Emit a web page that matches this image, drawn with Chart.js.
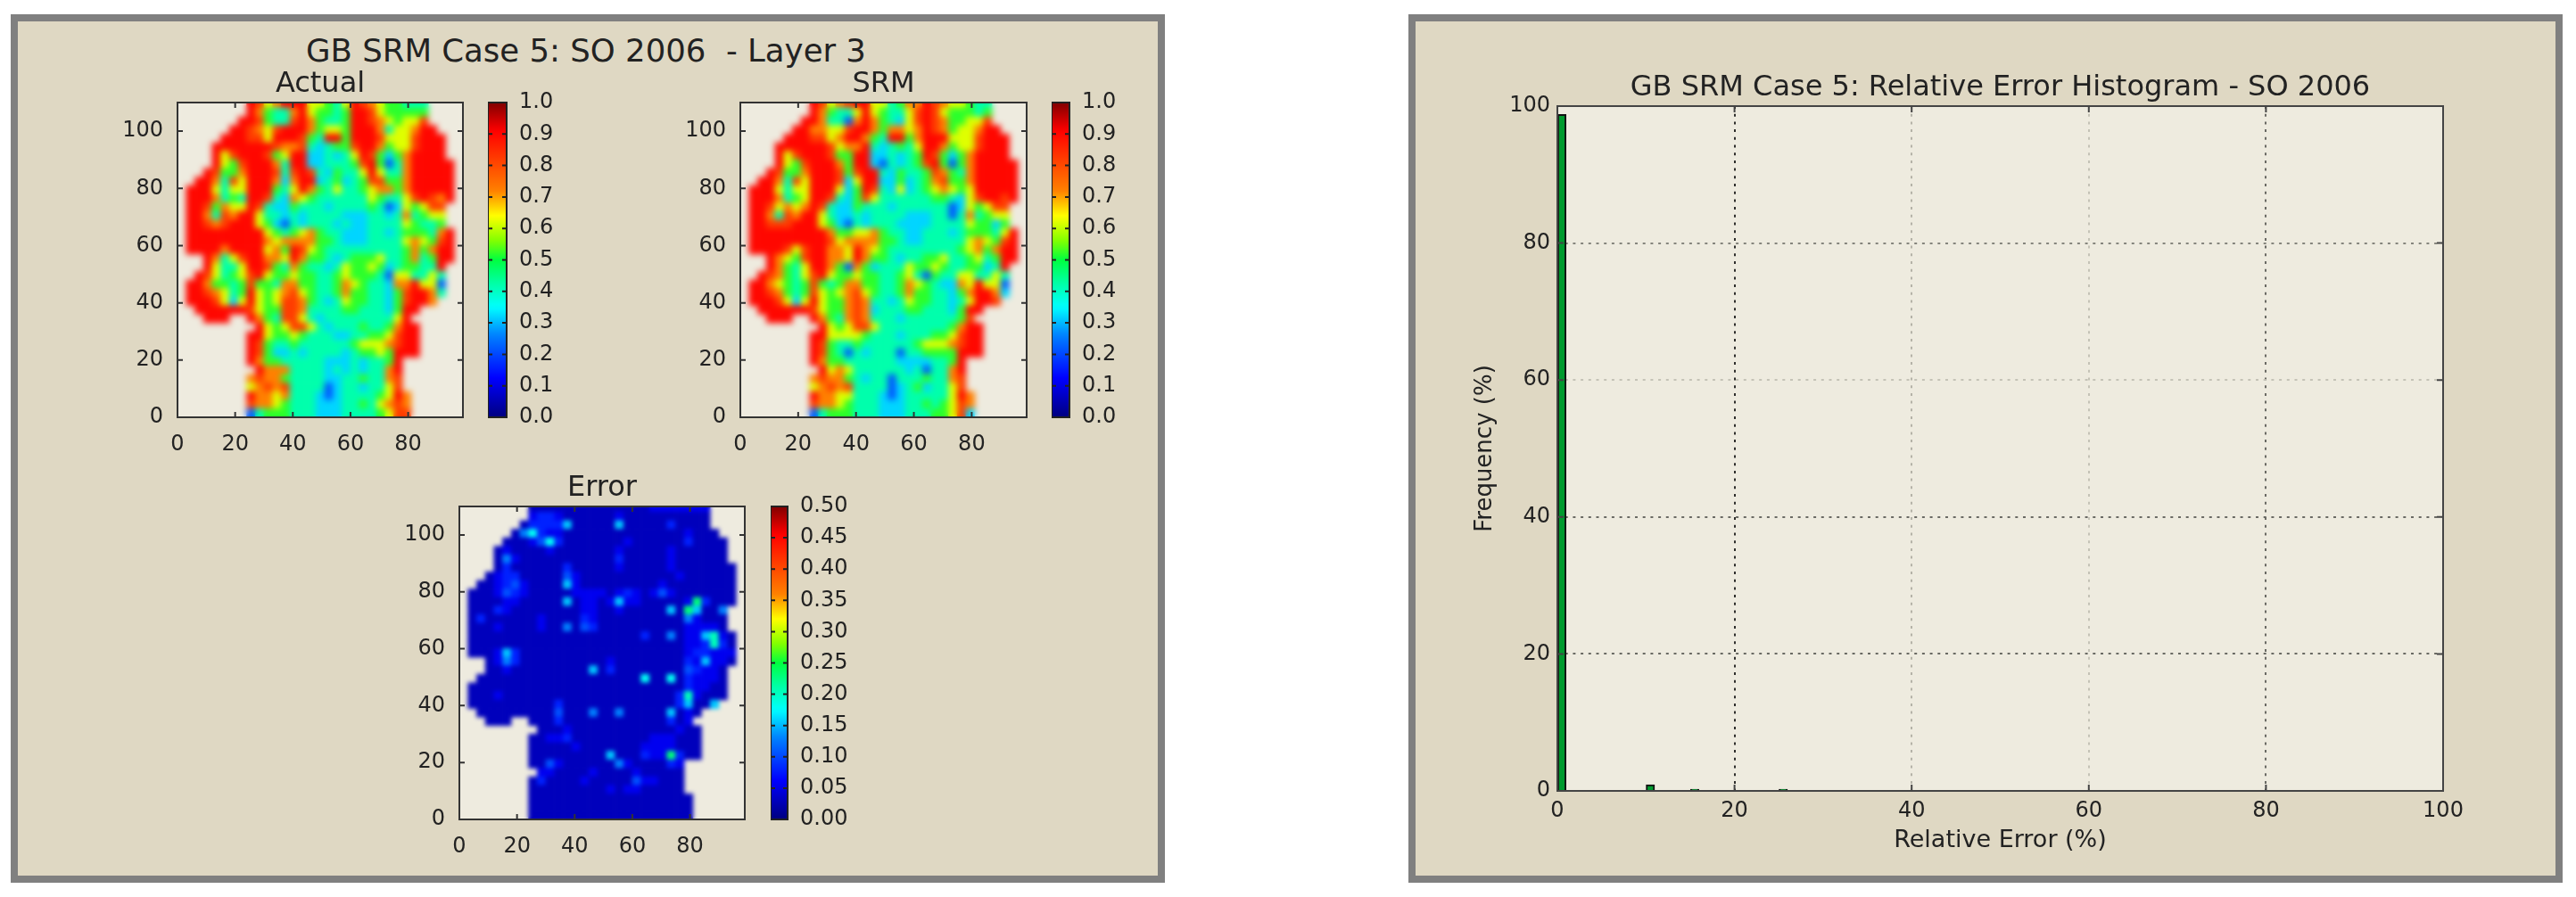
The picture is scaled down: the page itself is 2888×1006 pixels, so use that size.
<!DOCTYPE html>
<html>
<head>
<meta charset="utf-8">
<title>GB SRM Case 5</title>
<script src="https://cdn.jsdelivr.net/npm/chart.js@4"></script>
<style>
  html, body { margin: 0; background: #fff; }
  #page { position: relative; width: 2888px; height: 1006px; overflow: hidden; filter: blur(0.6px); }
  .panel { position: absolute; box-sizing: border-box; border: 8px solid #808080; background: #dfd8c3; }
  canvas { position: absolute; }
  #mainTitle { position: absolute; left: 657px; top: 36px; line-height: 40px; transform: translateX(-50%);
    font: 35.5px "DejaVu Sans"; color: #222; white-space: pre; }
</style>
</head>
<body>
<div id="page">
  <div class="panel" style="left:12px;top:16px;width:1294px;height:974px"></div>
  <div class="panel" style="left:1579px;top:16px;width:1294px;height:974px"></div>
  <div id="mainTitle">GB SRM Case 5: SO 2006  - Layer 3</div>
</div>
<script>
// Map cells, 3 x 3 grid units each, top row first.
// '.' = no data, a digit = value band, in steps of the map's unit
const actualRows = [
  "........986799966546987655444",
  "........975447965545998655555",
  ".......9985448975445998765668",
  "......998768999756659997466799",
  ".....99988699985499599986668999",
  "....999999987784345589975668999",
  "....968999856993343469853579999",
  "....9658999749933444589524799999",
  "...98557999848984354469644799999",
  "..997486999737993453458855799999",
  ".9996466999546975464456775799999",
  ".9997454998437654444446544689879",
  ".998576698433544434444542365688",
  ".997487996443434444333443474566",
  ".998789996532434443433444465445",
  ".9999999996545675443334434555479",
  ".9999999997677775543334444676589",
  ".9999799996759865444444444575799",
  "...97468997769755434555644574599",
  "...9644699854754434655653455449",
  "..98645689655655445655542664464",
  ".997554585547755445765443779662",
  ".998764596567865445755443589974",
  ".99986369656887543465544358997",
  "..99999986558874444554443599",
  "...999..9754886434444444469",
  ".........9656886434445445799",
  "........99655654443344556899",
  "........98544544444456667899",
  "........98533434444345565999",
  "........975544444333434459",
  ".........97774444343434479",
  "........787754444334454478",
  "........678784444234434468",
  "........9776744432344445697",
  "........8776544433344546787",
  "........2455544433344445688"
];
const srmRows = [
  "........986789966457798766544",
  "........975446965446898655545",
  ".......9974427975436898755668",
  "......997766899757767987566799",
  ".....99988679975499579996668999",
  "....999999867794345469975668999",
  "....968999855993343459853579999",
  "....9658999759932434589525799999",
  "...98557999858994354458754799999",
  "..997486999836993353457855799999",
  ".9996466999635984363456765699999",
  ".9997456998435864444445543689989",
  ".998676798433544434444442365688",
  ".997487996433434444333442474566",
  ".998889996532434443333444465535",
  ".9999999997556675443344434555469",
  ".9999999998677775543344444676589",
  ".9999868997769765444444445675799",
  "...97658997769755434455644564599",
  "...9754699752753444655654455349",
  "..98754689655655445642544664464",
  ".997654585457755445765433769662",
  ".998754586567865445755443579973",
  ".99986369655787443465544346998",
  "..99999986557873444554443599",
  "...999..9754787444344444458",
  ".........9656886444444445799",
  "........99666654443444556899",
  "........98544544444456667899",
  "........98542434442445555999",
  "........975544444433334459",
  ".........96764444443424479",
  "........787754344244454478",
  "........678784444234534468",
  "........9776644432344444697",
  "........8776544433344545687",
  "........2455544433344455683"
];
const errorRows = [
  "........111111111111112222222",
  "........233211111121111111111",
  ".......1333361111161111131111",
  "......157322111111111111112111",
  ".....11124731111111211111131111",
  "....121111211111112111112111111",
  "....152111111111113111112111111",
  "....1311111131111121111121111111",
  "...12331111142111111111112111111",
  "..112342111162111111111211111111",
  ".1112432111112222123212421111111",
  ".1111221111161221262211111293111",
  ".111321111111122112111116196115",
  ".131111112111132111111111152111",
  ".111211112115143111111111122221",
  ".1111111111111111111131151226821",
  ".1111111111111111111111111223831",
  ".1112631111111111111111111233222",
  "...12531111111111211111111326221",
  "...1121111111116131111111143221",
  "..11111111111111111117117132221",
  ".111111111111111111111111132211",
  ".111211111111111111111111382111",
  ".11111111113111111111111136116",
  "..11111111141115115111116121",
  "...111..1113111111111111312",
  ".........1112111111111111211",
  "........11223111111111222111",
  "........11111211111112222111",
  "........11111111161113229311",
  "........114211111152111132",
  ".........22111121111211111",
  "........131111211111422111",
  "........111111111212211111",
  "........1111111111111111111",
  "........1111111111111111111",
  "........1111111111111111111"
];

// Histogram bins (left edge, %) and their frequency (%)
const binStarts = [0, 10, 15, 25];
const binFreqs = [98.8, 0.9, 0.25, 0.25];

// Tick values
const mapXTicks = [0, 20, 40, 60, 80];
const mapYTicks = [0, 20, 40, 60, 80, 100];
const barTicks = [0, 0.1, 0.2, 0.3, 0.4, 0.5, 0.6, 0.7, 0.8, 0.9, 1];
const errorBarTicks = [0, 0.05, 0.1, 0.15, 0.2, 0.25, 0.3, 0.35, 0.4, 0.45, 0.5];
const histTicks = [0, 20, 40, 60, 80, 100];

// Grid line shades of the histogram, by tick value
const histXShade = { 20: '#2e2e2c', 40: '#b5b3a8', 60: '#c4c2b6', 80: '#6a6a64' };
const histYShade = { 20: '#6a6a64', 40: '#6a6a64', 60: '#c4c2b6', 80: '#85857d' };

const FONT = 'DejaVu Sans';
const INK = '#222';
const PLOT_BG = '#eeebdf';
const CELL = 3; // grid units per map cell
const GRID_TOP = 110;
const BAND_OFFSET = 0.2; // a digit stands for a band, take a value a little above its floor

// Colormap as it looks on the pictured colorbars: [position, r, g, b]
const colorStops = [
    [0, 0, 0, 127], [0.125, 0, 0, 255], [0.26, 0, 128, 255], [0.35, 0, 255, 255],
    [0.43, 0, 255, 160], [0.5, 0, 255, 64], [0.56, 128, 255, 0], [0.64, 255, 255, 0],
    [0.72, 255, 128, 0], [0.91, 255, 0, 0], [1, 128, 0, 0]
];

function jet(t) {
    for (let i = 1; i < colorStops.length; i++) {
        if (t <= colorStops[i][0]) {
            const a = colorStops[i - 1];
            const b = colorStops[i];
            const f = (t - a[0]) / (b[0] - a[0]);
            const mix = (k) => Math.round(a[k] + (b[k] - a[k]) * f);
            return `rgb(${mix(1)},${mix(2)},${mix(3)})`;
        }
    }
    return 'rgb(128,0,0)';
}

function addCanvas(left, top, width, height) {
    const canvas = document.createElement('canvas');
    canvas.width = width;
    canvas.height = height;
    canvas.style.left = left + 'px';
    canvas.style.top = top + 'px';
    document.getElementById('page').appendChild(canvas);
    return canvas.getContext('2d');
}

// Pins an axis to a fixed thickness so the plot area lands where it should
const fixedSize = (size) => (scale) => {
    if (scale.isHorizontal()) scale.height = size;
    else scale.width = size;
    scale.paddingLeft = scale.paddingRight = scale.paddingTop = scale.paddingBottom = 0;
};

const setTicks = (values) => (scale) => {
    scale.ticks = values.map(value => ({ value }));
};

function axisOptions(min, max, values, size, label) {
    return {
        type: 'linear',
        min: min,
        max: max,
        afterBuildTicks: setTicks(values),
        afterFit: fixedSize(size),
        border: { display: false },
        grid: { display: false },
        ticks: {
            autoSkip: false,
            maxRotation: 0,
            padding: 8,
            color: INK,
            font: { family: FONT, size: 24 },
            callback: label || (v => String(v))
        }
    };
}

// Fills the plot background, then adds the frame and the inward tick marks
function framePlugin(tick, frameColor) {
    return {
        id: 'frame',
        beforeDraw(chart) {
            const a = chart.chartArea;
            chart.ctx.fillStyle = PLOT_BG;
            chart.ctx.fillRect(a.left, a.top, a.width, a.height);
        },
        afterDraw(chart) {
            const a = chart.chartArea;
            const ctx = chart.ctx;
            ctx.save();
            ctx.strokeStyle = frameColor;
            ctx.lineWidth = 2;
            ctx.strokeRect(a.left, a.top, a.width, a.height);
            ctx.beginPath();
            Object.values(chart.scales).forEach(scale => {
                if (!scale.options.display) return;
                scale.ticks.forEach(t => {
                    const p = scale.getPixelForValue(t.value);
                    if (scale.isHorizontal()) {
                        ctx.moveTo(p, a.top); ctx.lineTo(p, a.top + tick);
                        ctx.moveTo(p, a.bottom); ctx.lineTo(p, a.bottom - tick);
                    } else {
                        ctx.moveTo(a.left, p); ctx.lineTo(a.left + tick, p);
                        ctx.moveTo(a.right, p); ctx.lineTo(a.right - tick, p);
                    }
                });
            });
            ctx.stroke();
            ctx.restore();
        }
    };
}

// The pictured maps are interpolated: soften the cells inside the plot area only
function softenCells(radius) {
    return {
        id: 'softenCells',
        afterDatasetsDraw(chart) {
            const a = chart.chartArea;
            const ctx = chart.ctx;
            ctx.save();
            ctx.beginPath();
            ctx.rect(a.left, a.top, a.width, a.height);
            ctx.clip();
            ctx.filter = `blur(${radius}px)`;
            ctx.drawImage(chart.canvas, a.left, a.top, a.width, a.height, a.left, a.top, a.width, a.height);
            ctx.restore();
        }
    };
}

function rowsToPoints(rows, unit, vmax, top) {
    const points = [];
    rows.forEach((row, r) => {
        [...row].forEach((ch, c) => {
            if (ch === '.') return;
            const v = Math.min((Number(ch) + BAND_OFFSET) * unit, 0.9 * vmax);
            points.push({ x: (c + 0.5) * CELL, y: top - (r + 0.5) * CELL, v: v });
        });
    });
    return points;
}

// One map with its title
function mapChart(box, rows, unit, vmax, title, titleGap, blur) {
    const axisW = 80, axisH = 45, marginTop = 60, titleSize = 32;
    const ctx = addCanvas(box.left - axisW, box.top - marginTop,
        box.right - box.left + axisW + 6, box.bottom - box.top + marginTop + axisH);
    return new Chart(ctx, {
        type: 'scatter',
        data: {
            datasets: [{
                data: rowsToPoints(rows, unit, vmax, GRID_TOP + 1),
                pointStyle: 'rect',
                borderWidth: 0,
                pointBorderWidth: 0,
                pointBackgroundColor: (c) => c.raw ? jet(c.raw.v / vmax) : '#000',
                pointRadius: (c) => {
                    const x = c.chart.scales.x;
                    return Math.abs(x.getPixelForValue(CELL) - x.getPixelForValue(0)) * 0.75;
                }
            }]
        },
        options: {
            responsive: false,
            animation: false,
            devicePixelRatio: 1,
            events: [],
            layout: { padding: { top: marginTop - titleSize * 1.2 - titleGap, right: 6 } },
            plugins: {
                legend: { display: false },
                tooltip: { enabled: false },
                title: {
                    display: true,
                    text: title,
                    fullSize: false,
                    color: INK,
                    font: { family: FONT, size: titleSize, weight: 'normal', lineHeight: 1.2 },
                    padding: { top: 0, bottom: titleGap }
                }
            },
            scales: {
                x: axisOptions(0, 99, mapXTicks, axisH),
                y: axisOptions(0, GRID_TOP, mapYTicks, axisW)
            }
        },
        plugins: [framePlugin(6, '#333'), softenCells(blur)]
    });
}

// Vertical colorbar: one floating bar painted with the colormap
function colorBar(box, vmax, values, digits) {
    const axisW = 84, marginTop = 20, marginBottom = 20;
    const ctx = addCanvas(box.left, box.top - marginTop,
        box.right - box.left + axisW, box.bottom - box.top + marginTop + marginBottom);
    const y = axisOptions(0, vmax, values, axisW, v => v.toFixed(digits));
    y.position = 'right';
    y.ticks.padding = 6;
    return new Chart(ctx, {
        type: 'bar',
        data: {
            labels: [''],
            datasets: [{
                data: [[0, vmax]],
                barPercentage: 1,
                categoryPercentage: 1,
                backgroundColor: (c) => {
                    const a = c.chart.chartArea;
                    if (!a) return '#000';
                    const g = c.chart.ctx.createLinearGradient(0, a.bottom, 0, a.top);
                    for (let i = 0; i <= 64; i++) g.addColorStop(i / 64, jet(i / 64));
                    return g;
                }
            }]
        },
        options: {
            responsive: false,
            animation: false,
            devicePixelRatio: 1,
            events: [],
            layout: { padding: { top: marginTop, bottom: marginBottom } },
            plugins: { legend: { display: false }, tooltip: { enabled: false } },
            scales: { x: { display: false }, y: y }
        },
        plugins: [framePlugin(5, '#222')]
    });
}

function histChart(box) {
    const axisW = 100, axisH = 80, marginTop = 60, marginRight = 60, titleSize = 32, titleGap = 1.5;
    const ctx = addCanvas(box.left - axisW, box.top - marginTop,
        box.right - box.left + axisW + marginRight, box.bottom - box.top + marginTop + axisH);
    const x = axisOptions(0, 100, histTicks, axisH);
    const y = axisOptions(0, 100, histTicks, axisW);
    x.offset = false;
    x.grid = { offset: false, drawTicks: false, lineWidth: 2, color: c => histXShade[c.tick.value] || 'transparent' };
    y.grid = { drawTicks: false, lineWidth: 2, color: c => histYShade[c.tick.value] || 'transparent' };
    x.border = { display: false, dash: [3, 5.7] };
    y.border = { display: false, dash: [3, 5.7] };
    x.title = {
        display: true,
        text: 'Relative Error (%)',
        color: INK,
        font: { family: FONT, size: 27, lineHeight: 1.2 },
        padding: { top: 0, bottom: 8 }
    };
    y.title = {
        display: true,
        text: 'Frequency (%)',
        color: INK,
        font: { family: FONT, size: 26, lineHeight: 1.2 },
        padding: { top: 4, bottom: 0 }
    };
    return new Chart(ctx, {
        type: 'bar',
        data: {
            datasets: [{
                data: binStarts.map((b, i) => ({ x: b + 0.5, y: binFreqs[i] })),
                barThickness: 9.5,
                backgroundColor: '#009a2e',
                borderColor: '#111',
                borderWidth: 2
            }]
        },
        options: {
            responsive: false,
            animation: false,
            devicePixelRatio: 1,
            events: [],
            layout: { padding: { top: marginTop - titleSize * 1.2 - titleGap, right: marginRight } },
            plugins: {
                legend: { display: false },
                tooltip: { enabled: false },
                title: {
                    display: true,
                    text: 'GB SRM Case 5: Relative Error Histogram - SO 2006',
                    fullSize: false,
                    color: INK,
                    font: { family: FONT, size: titleSize, weight: 'normal', lineHeight: 1.2 },
                    padding: { top: 0, bottom: titleGap }
                }
            },
            scales: { x: x, y: y }
        },
        plugins: [framePlugin(7, '#444')]
    });
}

mapChart({ left: 199, top: 115, right: 519, bottom: 468 }, actualRows, 0.1, 1, 'Actual', 1, 3.5);
colorBar({ left: 547, top: 115, right: 568, bottom: 468 }, 1, barTicks, 1);
mapChart({ left: 830, top: 115, right: 1151, bottom: 468 }, srmRows, 0.1, 1, 'SRM', 1, 3.5);
colorBar({ left: 1179, top: 115, right: 1199, bottom: 468 }, 1, barTicks, 1);
mapChart({ left: 515, top: 568, right: 835, bottom: 919 }, errorRows, 0.025, 0.5, 'Error', 1.5, 2.5);
colorBar({ left: 864, top: 568, right: 883, bottom: 919 }, 0.5, errorBarTicks, 2);
histChart({ left: 1746, top: 119, right: 2739, bottom: 887 });
</script>
</body>
</html>
